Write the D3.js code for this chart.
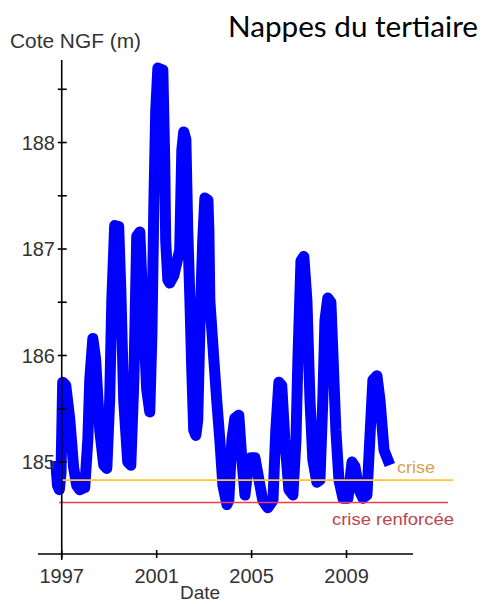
<!DOCTYPE html>
<html>
<head>
<meta charset="utf-8">
<script src="https://cdn.jsdelivr.net/npm/d3@7"></script>
<style>
  html, body { margin: 0; padding: 0; background: #fff; }
  svg { display: block; }
</style>
</head>
<body>
<svg id="chart" width="483" height="604"></svg>
<script>
// Groundwater level record (decimal year, NGF elevation in metres)
const years = [
  1996.76, 1996.82, 1996.90, 1996.97, 1997.04, 1997.17, 1997.34, 1997.50, 1997.63, 1997.76, 1997.97,
  1998.10, 1998.18, 1998.31, 1998.43, 1998.60, 1998.77, 1998.90,
  1999.02, 1999.11, 1999.23, 1999.40, 1999.49, 1999.61, 1999.78, 1999.91,
  2000.04, 2000.16, 2000.29, 2000.41, 2000.58, 2000.71, 2000.80, 2000.88,
  2000.96, 2001.05, 2001.26, 2001.34, 2001.38, 2001.47, 2001.55, 2001.72, 2001.97,
  2002.06, 2002.14, 2002.23, 2002.31, 2002.40, 2002.48, 2002.56, 2002.65, 2002.73, 2002.82, 2002.94,
  2003.03, 2003.16, 2003.20, 2003.24, 2003.41, 2003.53, 2003.66, 2003.79, 2003.96,
  2004.04, 2004.17, 2004.29, 2004.46, 2004.59, 2004.72, 2004.84, 2004.97,
  2005.14, 2005.31, 2005.47, 2005.68, 2005.90,
  2006.02, 2006.15, 2006.27, 2006.40, 2006.57, 2006.74, 2006.87, 2006.95,
  2007.08, 2007.20, 2007.33, 2007.46, 2007.58, 2007.75, 2007.88,
  2008.00, 2008.09, 2008.21, 2008.34, 2008.42, 2008.55, 2008.68, 2008.85,
  2009.06, 2009.23, 2009.35, 2009.52, 2009.69, 2009.86, 2009.98,
  2010.11, 2010.28, 2010.41, 2010.58, 2010.74
];
const levels = [
  184.96, 184.78, 184.74, 184.90, 185.75, 185.72, 185.40, 184.95, 184.78, 184.74, 184.76,
  185.21, 185.77, 186.16, 185.96, 185.30, 184.97, 184.94,
  185.58, 186.52, 187.22, 187.21, 186.61, 185.58, 185.00, 184.97,
  185.77, 187.12, 187.16, 186.52, 185.68, 185.47, 186.20, 187.40,
  188.30, 188.70, 188.68, 187.83, 187.08, 186.71, 186.68, 186.75, 186.99,
  187.93, 188.10, 188.03, 187.18, 186.52, 185.86, 185.30, 185.25, 185.39, 186.24, 187.08,
  187.48, 187.46, 187.18, 186.52, 185.96, 185.58, 185.21, 184.78, 184.60,
  184.64, 185.21, 185.41, 185.44, 185.02, 184.69, 184.92, 185.04,
  185.04, 184.83, 184.64, 184.57, 184.64,
  185.30, 185.75, 185.72, 185.21, 184.74, 184.69, 185.21, 185.96,
  186.89, 186.93, 186.52, 185.58, 185.02, 184.81, 184.83,
  185.58, 186.33, 186.54, 186.50, 186.05, 185.30, 184.83, 184.66,
  184.66, 185.00, 184.96, 184.74, 184.66, 184.69, 185.21,
  185.77, 185.81, 185.58, 185.11, 185.02
];

// Alert thresholds
const thresholdNames = ["crise", "crise renforcée"];
const thresholdValues = [184.83, 184.62];
const thresholdColors = ["#ffc533", "#e8434b"];
const thresholdTextColors = ["#d6a24c", "#b8474d"];

// Axis ticks
const xTickYears = [1997, 2001, 2005, 2009];
const yMajorTicks = [185, 186, 187, 188];
const yMinorTicks = [185.5, 186.5, 187.5, 188.5];

const svg = d3.select("#chart");
const font = "'Liberation Sans', Arial, sans-serif";

const x = d3.scaleLinear().domain([1996.0, 2011.8]).range([38, 413]);
const y = d3.scaleLinear().domain([184.136, 188.775]).range([554, 60]);
const axisX = x(1997);

// Title
svg.append("text")
  .attr("x", 228).attr("y", 37)
  .attr("font-family", "Lato, 'Open Sans', sans-serif")
  .attr("font-size", 29)
  .attr("textLength", 250)
  .attr("lengthAdjust", "spacingAndGlyphs")
  .attr("fill", "#000")
  .text("Nappes du tertiaire");

// Y axis title
svg.append("text")
  .attr("x", 10).attr("y", 48)
  .attr("font-family", font)
  .attr("font-size", 20)
  .attr("textLength", 131)
  .attr("lengthAdjust", "spacingAndGlyphs")
  .attr("fill", "#333")
  .text("Cote NGF (m)");

const points = years.map((yr, i) => [yr, levels[i]]);

// Water level series, drawn as a thick band
const line = d3.line().x(d => x(d[0])).y(d => y(d[1]));
svg.append("path")
  .datum(points)
  .attr("d", line)
  .attr("fill", "none")
  .attr("stroke", "#0000ff")
  .attr("stroke-width", 11)
  .attr("stroke-linejoin", "round")
  .attr("stroke-linecap", "square");

// Threshold lines, on top of the band
const thr = svg.append("g");
thr.append("line")
  .attr("x1", axisX).attr("x2", 453)
  .attr("y1", y(thresholdValues[0])).attr("y2", y(thresholdValues[0]))
  .attr("stroke", thresholdColors[0]).attr("stroke-width", 1.6);
thr.append("line")
  .attr("x1", 59).attr("x2", 448)
  .attr("y1", y(thresholdValues[1])).attr("y2", y(thresholdValues[1]))
  .attr("stroke", thresholdColors[1]).attr("stroke-width", 1.6);

// Threshold labels
svg.append("text")
  .attr("x", 397).attr("y", 473)
  .attr("font-family", font).attr("font-size", 17)
  .attr("textLength", 38).attr("lengthAdjust", "spacingAndGlyphs")
  .attr("fill", thresholdTextColors[0])
  .text(thresholdNames[0]);
svg.append("text")
  .attr("x", 332).attr("y", 525)
  .attr("font-family", font).attr("font-size", 17)
  .attr("textLength", 122).attr("lengthAdjust", "spacingAndGlyphs")
  .attr("fill", thresholdTextColors[1])
  .text(thresholdNames[1]);

// Y axis
const yAxis = svg.append("g").attr("stroke", "#000");
yAxis.append("line")
  .attr("x1", axisX).attr("x2", axisX)
  .attr("y1", 60).attr("y2", 560)
  .attr("stroke-width", 1.6);
yAxis.selectAll("line.tick")
  .data(yMajorTicks.concat(yMinorTicks))
  .join("line")
  .attr("class", "tick")
  .attr("x1", axisX - 4).attr("x2", axisX + 5)
  .attr("y1", d => y(d)).attr("y2", d => y(d))
  .attr("stroke-width", 1.6);
svg.selectAll("text.ylab")
  .data(yMajorTicks)
  .join("text")
  .attr("class", "ylab")
  .attr("x", 55).attr("y", d => y(d))
  .attr("dy", "0.36em")
  .attr("text-anchor", "end")
  .attr("font-family", font).attr("font-size", 20)
  .attr("fill", "#333")
  .text(d => d);

// X axis
const xAxis = svg.append("g").attr("stroke", "#000");
xAxis.append("line")
  .attr("x1", 38).attr("x2", 413)
  .attr("y1", 554).attr("y2", 554)
  .attr("stroke-width", 1.6);
xAxis.selectAll("line.tick")
  .data(xTickYears)
  .join("line")
  .attr("class", "tick")
  .attr("x1", d => x(d)).attr("x2", d => x(d))
  .attr("y1", 550).attr("y2", 558)
  .attr("stroke-width", 1.6);
svg.selectAll("text.xlab")
  .data(xTickYears)
  .join("text")
  .attr("class", "xlab")
  .attr("x", d => x(d)).attr("y", 583)
  .attr("text-anchor", "middle")
  .attr("font-family", font).attr("font-size", 20)
  .attr("fill", "#333")
  .text(d => d);

svg.append("text")
  .attr("x", 200).attr("y", 599)
  .attr("text-anchor", "middle")
  .attr("font-family", font).attr("font-size", 19)
  .attr("fill", "#333")
  .text("Date");
</script>
</body>
</html>
